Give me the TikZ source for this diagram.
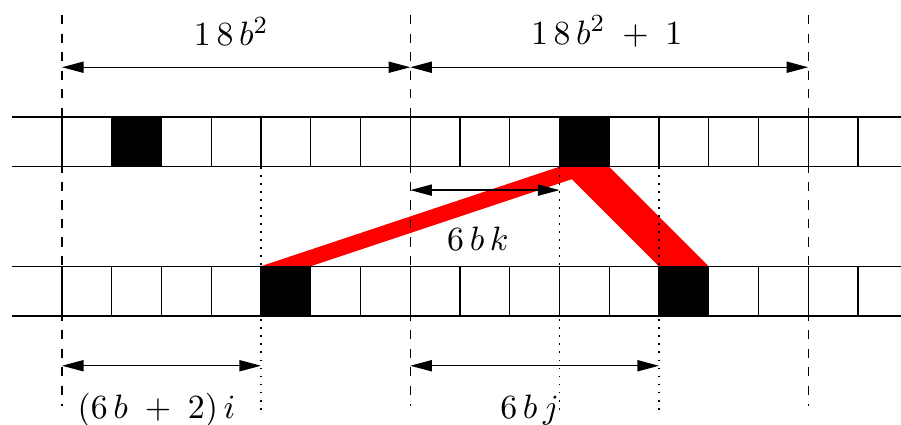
\documentclass[tikz,border=0pt]{standalone}
\usetikzlibrary{arrows.meta}
\begin{document}
\begin{tikzpicture}[x=0.566cm,y=0.566cm,
  tip/.tip={Triangle[length=7pt,width=3.6pt]},
  dim/.style={{tip}-{tip}, line width=0.45pt},
  tape/.style={line width=0.45pt},
  guide/.style={dashed, line width=0.45pt},
  dotguide/.style={dotted, line width=0.6pt},
  lbl/.style={inner sep=0pt, font=\fontsize{11}{13}\selectfont},
  blackcell/.style={fill=black},
  band/.style={fill=red}]
\useasboundingbox (-1.246,-2.171) rectangle (16.865,6.352);

% black cells
\fill[blackcell] (1,3) rectangle (2,4);
\fill[blackcell] (10,3) rectangle (11,4);
\fill[blackcell] (4,0) rectangle (5,1);
\fill[blackcell] (12,0) rectangle (13,1);

% red band
\fill[band] (4,1) -- (10,3) -- (11,3) -- (13,1) -- (12,1) -- (10.25,2.75) -- (5,1) -- cycle;

% tapes
\foreach \y in {0,1,3,4} \draw[tape] (-1,\y) -- (16.865,\y);
\foreach \x in {0,...,16} {
  \draw[tape] (\x,3) -- (\x,4);
  \draw[tape] (\x,0) -- (\x,1);
}

% guide lines
\foreach \x in {0,7,15} \draw[guide] (\x,6.05) -- (\x,-1.8);
\foreach \x in {4,10,12} \draw[dotguide] (\x,3) -- (\x,-1.9);

% coordinates
\coordinate (t0) at (0,5);
\coordinate (t7) at (7,5);
\coordinate (t15) at (15,5);
\coordinate (m7) at (7,2.53);
\coordinate (m10) at (10,2.53);
\coordinate (b0) at (0,-1);
\coordinate (b4) at (4,-1);
\coordinate (b7) at (7,-1);
\coordinate (b12) at (12,-1);

\draw[dim] (t0) -- (t7);
\draw[dim] (t7) -- (t15);
\draw[dim] (m7) -- (m10);
\draw[dim] (b0) -- (b4);
\draw[dim] (b7) -- (b12);

\node[lbl] (l1) at (3.4,5.72) {$1\,8\,b^{2}$};
\node[lbl] (l2) at (10.95,5.72) {$1\,8\,b^{2}\;+\;1$};
\node[lbl] (l3) at (8.36,1.55) {$6\,b\,k$};
\node[lbl] (l4) at (1.9,-1.9) {$(6\,b\;+\;2)\,i$};
\node[lbl] (l5) at (9.4,-1.9) {$6\,b\,j$};
\end{tikzpicture}
\end{document}
